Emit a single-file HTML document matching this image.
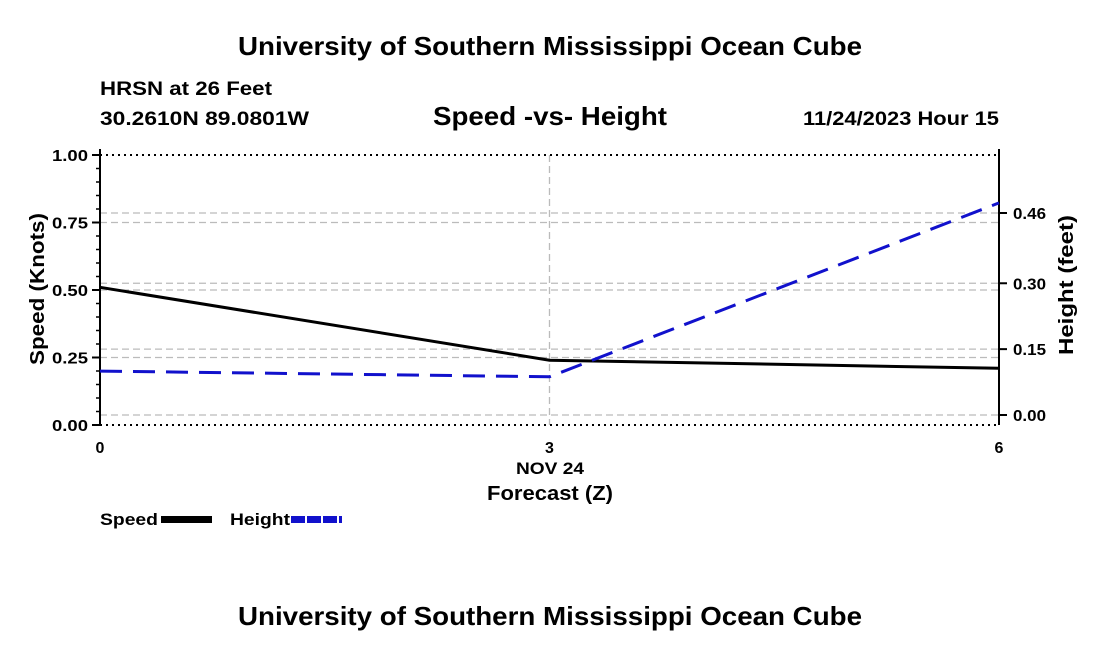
<!DOCTYPE html>
<html><head><meta charset="utf-8"><style>
body{margin:0;background:#fff;}
svg text{font-family:"Liberation Sans",sans-serif;font-weight:bold;fill:#000;}
</style></head><body>
<svg id="c" width="1100" height="650" viewBox="0 0 1100 650">
<text x="238" y="55" font-size="26" textLength="624" lengthAdjust="spacingAndGlyphs">University of Southern Mississippi Ocean Cube</text>
<text x="100" y="95" font-size="19" textLength="172" lengthAdjust="spacingAndGlyphs">HRSN at 26 Feet</text>
<text x="100" y="125" font-size="19" textLength="209" lengthAdjust="spacingAndGlyphs">30.2610N  89.0801W</text>
<text x="433" y="125" font-size="26" textLength="234" lengthAdjust="spacingAndGlyphs">Speed -vs- Height</text>
<text x="803" y="125" font-size="19" textLength="196" lengthAdjust="spacingAndGlyphs">11/24/2023 Hour 15</text>
<text x="238" y="625" font-size="26" textLength="624" lengthAdjust="spacingAndGlyphs">University of Southern Mississippi Ocean Cube</text>
<g id="grid"></g><g id="axes"></g><g id="series"></g>
<text transform="translate(44,289) rotate(-90)" font-size="20" text-anchor="middle" textLength="152" lengthAdjust="spacingAndGlyphs">Speed (Knots)</text>
<text transform="translate(1073,285) rotate(-90)" font-size="20" text-anchor="middle" textLength="140" lengthAdjust="spacingAndGlyphs">Height (feet)</text>
<text x="516" y="474" font-size="17" textLength="68" lengthAdjust="spacingAndGlyphs">NOV 24</text>
<text x="487" y="500" font-size="20" textLength="126" lengthAdjust="spacingAndGlyphs">Forecast (Z)</text>
<g>
<text x="100" y="525" font-size="17" textLength="58" lengthAdjust="spacingAndGlyphs">Speed</text>
<rect x="161" y="516" width="51" height="7" fill="#000"/>
<text x="230" y="525" font-size="17" textLength="60" lengthAdjust="spacingAndGlyphs">Height</text>
<line x1="291" x2="342" y1="519.5" y2="519.5" stroke="#11c" stroke-width="7" stroke-dasharray="14,2"/>
</g>
</svg>
<script>
const hours=[0,3,6];
const speed=[0.51,0.24,0.21];
const height=[0.10,0.087,0.483];
const speedTicks=[0,0.25,0.5,0.75,1.0];
const speedTickLabels=["0.00","0.25","0.50","0.75","1.00"];
const heightTicks=[0,0.15,0.30,0.46];
const heightTickLabels=["0.00","0.15","0.30","0.46"];
const xTicks=[0,3,6];
const NS="http://www.w3.org/2000/svg";
const L=100,R=999,T=155,B=425;
const xs=h=>L+(h-0)/6*(R-L);
const ys=v=>B-v*(B-T);
const yh=v=>415-v*(415-213)/0.46;
function mk(t,a,p){const e=document.createElementNS(NS,t);for(const k in a)e.setAttribute(k,a[k]);document.getElementById(p).appendChild(e);return e;}
speedTicks.slice(1,4).forEach((v,i)=>{const e=mk('line',{x1:L,x2:R,y1:ys(v),y2:ys(v),stroke:'#bbb','stroke-dasharray':'7,4','stroke-width':1.3},'grid');

});
heightTicks.forEach(v=>{const e=mk('line',{x1:L,x2:R,y1:yh(v),y2:yh(v),stroke:'#bbb','stroke-dasharray':'7,4','stroke-width':1.3},'grid');

});
{const e=mk('line',{x1:xs(3),x2:xs(3),y1:T,y2:B,stroke:'#bbb','stroke-dasharray':'7,4','stroke-width':1.3},'grid');

}
[T,B].forEach(y=>{const e=mk('line',{x1:L,x2:R,y1:y,y2:y,stroke:'#000','stroke-dasharray':'2,4','stroke-width':2},'axes');

});
{const e=mk('line',{x1:L,x2:L,y1:T-6,y2:B,stroke:'#000','stroke-width':2},'axes');

}
{const e=mk('line',{x1:R,x2:R,y1:T-6,y2:B,stroke:'#000','stroke-width':2},'axes');

}
for(let v=0;v<=1.0001;v+=0.05){const e=mk('line',{x1:L-4,x2:L,y1:ys(v),y2:ys(v),stroke:'#000','stroke-width':1.5},'axes');

}
speedTicks.forEach((v,i)=>{const e=mk('line',{x1:L-8,x2:L,y1:ys(v),y2:ys(v),stroke:'#000','stroke-width':2},'axes');


const t=mk('text',{x:52,y:ys(v)+6,'font-size':16,textLength:36,lengthAdjust:'spacingAndGlyphs'},'axes');t.textContent=speedTickLabels[i];

});
heightTicks.forEach((v,i)=>{const e=mk('line',{x1:R,x2:R+8,y1:yh(v),y2:yh(v),stroke:'#000','stroke-width':2},'axes');


const t=mk('text',{x:1013,y:yh(v)+6,'font-size':16,textLength:33,lengthAdjust:'spacingAndGlyphs'},'axes');t.textContent=heightTickLabels[i];

});
xTicks.forEach(v=>{const t=mk('text',{x:xs(v),y:B+28,'font-size':16,'text-anchor':'middle'},'axes');t.textContent=String(v);

});
{const p=mk('polyline',{points:hours.map((h,i)=>xs(h)+','+ys(speed[i])).join(' '),fill:'none',stroke:'#000','stroke-width':3},'series');

}
{const p=mk('polyline',{points:hours.map((h,i)=>xs(h)+','+yh(height[i])).join(' '),fill:'none',stroke:'#11c','stroke-width':3,'stroke-dasharray':'22,11'},'series');

}
</script>
</body></html>
